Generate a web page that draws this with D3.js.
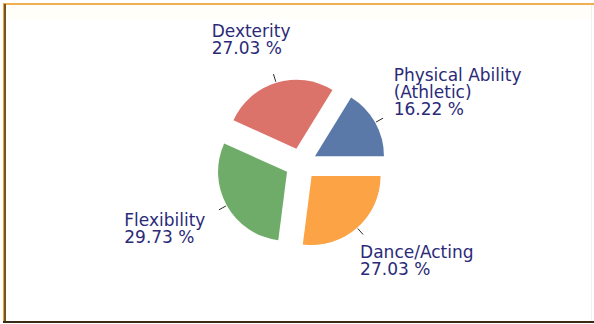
<!DOCTYPE html>
<html>
<head>
<meta charset="utf-8">
<script src="https://cdn.jsdelivr.net/npm/d3@7"></script>
<style>
  html, body { margin: 0; padding: 0; background: #ffffff; }
  svg { display: block; }
  text { font-family: "DejaVu Sans", sans-serif; }
</style>
</head>
<body>
<svg id="chart" width="594" height="324"></svg>
<script>
// Share of students by skill area (percent)
const categories = ["Physical Ability (Athletic)", "Dexterity", "Flexibility", "Dance/Acting"];
const percents = [16.22, 27.03, 29.73, 27.03];
const sliceColors = ["#5a79a9", "#dc736b", "#6fab69", "#fca345"];

const W = 594, H = 324;
const svg = d3.select("#chart");

// panel frame
svg.append("rect").attr("x", 0).attr("y", 0).attr("width", W).attr("height", H).attr("fill", "#ffffff");
svg.append("rect").attr("x", 6).attr("y", 5).attr("width", W - 8).attr("height", 14).attr("fill", "#fffef8");
svg.append("rect").attr("x", 3).attr("y", 3).attr("width", W - 3).attr("height", 2).attr("fill", "#f0b050");
svg.append("rect").attr("x", 3).attr("y", 3).attr("width", 1).attr("height", 319).attr("fill", "#eea140");
svg.append("rect").attr("x", 4).attr("y", 4).attr("width", 2).attr("height", 318).attr("fill", "#7a5222");
svg.append("rect").attr("x", 3).attr("y", 321).attr("width", W - 3).attr("height", 2).attr("fill", "#3a2a18");
svg.append("rect").attr("x", 591).attr("y", 5).attr("width", 1).attr("height", 316).attr("fill", "#f1f1f1");

// pie geometry
const cx = 301, cy = 164;
const radius = 69;
const explode = 16;
const tickLen = 9;
const fontSize = 17, lineH = 17;

// slices run counter-clockwise starting at 3 o'clock
const pie = d3.pie().sort(null).value(d => d)
  .startAngle(Math.PI / 2)
  .endAngle(Math.PI / 2 - 2 * Math.PI);
const arcs = pie(percents);
const arc = d3.arc().innerRadius(0).outerRadius(radius);

const g = svg.append("g").attr("transform", `translate(${cx},${cy})`);

const slices = g.selectAll("g.slice").data(arcs).join("g")
  .attr("class", "slice")
  .each(function (d) {
    const a = (d.startAngle + d.endAngle) / 2;
    d.dir = [Math.sin(a), -Math.cos(a)];
    d.off = [explode * d.dir[0], explode * d.dir[1]];
  })
  .attr("transform", d => `translate(${d.off[0]},${d.off[1]})`);

slices.append("path")
  .attr("d", arc)
  .attr("fill", (d, i) => sliceColors[i]);

// short link ticks just outside each slice
slices.append("line")
  .attr("x1", d => d.dir[0] * (radius + 1))
  .attr("y1", d => d.dir[1] * (radius + 1))
  .attr("x2", d => d.dir[0] * (radius + tickLen))
  .attr("y2", d => d.dir[1] * (radius + tickLen))
  .attr("stroke", "#2b2b2b")
  .attr("stroke-width", 1);

// labels: wrapped name plus percentage
function wrapWords(text, maxW, measure) {
  const words = text.split(" ");
  const lines = [];
  let cur = "";
  words.forEach(w => {
    const test = cur ? cur + " " + w : w;
    if (cur && measure(test) > maxW) { lines.push(cur); cur = w; }
    else cur = test;
  });
  if (cur) lines.push(cur);
  return lines;
}

const probe = svg.append("text").attr("font-size", fontSize).attr("visibility", "hidden");
const measure = s => { probe.text(s); return probe.node().getComputedTextLength(); };
const sroot = v => Math.sign(v) * Math.sqrt(Math.abs(v));

const labelLayer = svg.append("g");
arcs.forEach((d, i) => {
  const lines = wrapWords(categories[i], 140, measure);
  lines.push(d3.format(".2f")(percents[i]) + " %");
  const w = d3.max(lines, measure);
  const h = lines.length * lineH;
  const cosA = d.dir[0], sinA = -d.dir[1];
  // tick end in page coordinates
  const tx = cx + d.off[0] + d.dir[0] * (radius + tickLen);
  const ty = cy + d.off[1] + d.dir[1] * (radius + tickLen);
  // push the anchor a little further out, then align the block towards the pie
  const ax = tx + 20 * sroot(cosA);
  const ay = ty - 17 * sroot(sinA);
  const left = ax - w * (1 - cosA) / 2;
  const top = ay - h * (1 + sinA) / 2;
  const t = labelLayer.append("text")
    .attr("font-size", fontSize)
    .attr("fill", "#2a2a78");
  lines.forEach((ln, k) => {
    t.append("tspan")
      .attr("x", left)
      .attr("y", top + 13 + k * lineH)
      .text(ln);
  });
});
probe.remove();
</script>
</body>
</html>
